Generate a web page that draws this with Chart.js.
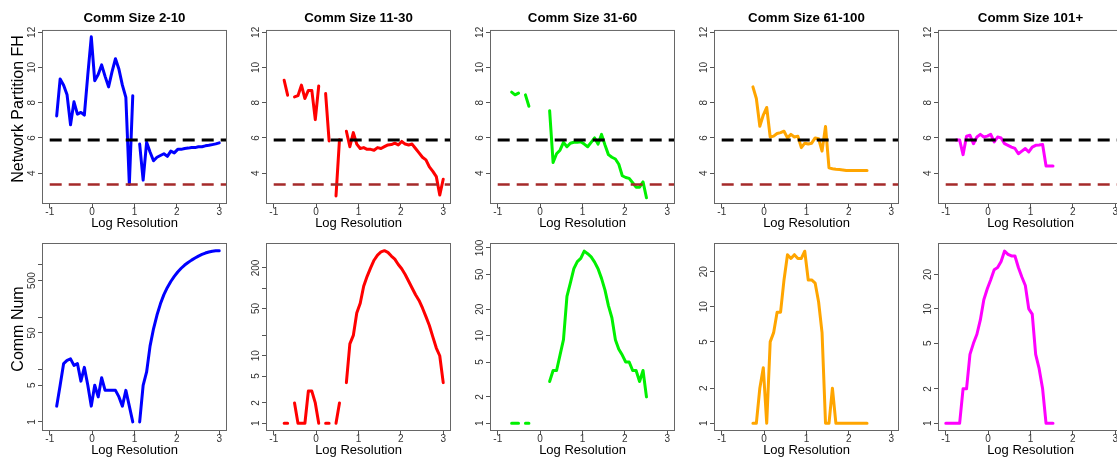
<!DOCTYPE html>
<html>
<head>
<meta charset="utf-8">
<script src="https://cdn.jsdelivr.net/npm/chart.js@4.4.0/dist/chart.umd.min.js"></script>
<style>
    html, body { margin: 0; padding: 0; background: #fff; overflow: hidden; }
    #wrap { position: relative; width: 1117px; height: 457px; overflow: hidden; }
    #wrap canvas { position: absolute; }
</style>
</head>
<body>
<div id="wrap"></div>
<script>
// log10 resolution grid shared by every panel
const logRes = [-1, -0.918, -0.837, -0.755, -0.673, -0.592, -0.510, -0.429, -0.347, -0.265,
    -0.184, -0.102, -0.020, 0.061, 0.143, 0.224, 0.306, 0.388, 0.469, 0.551,
    0.633, 0.714, 0.796, 0.878, 0.959, 1.041, 1.122, 1.204, 1.286, 1.367,
    1.449, 1.531, 1.612, 1.694, 1.776, 1.857, 1.939, 2.020, 2.102, 2.184,
    2.265, 2.347, 2.429, 2.510, 2.592, 2.673, 2.755, 2.837, 2.918, 3];

const sizeClasses = ['2-10', '11-30', '31-60', '61-100', '101+'];
const sizeColors = ['#0000ff', '#ff0000', '#00f000', '#ffa500', '#ff00ff'];

// Network partition FH per size class (null = no community of that size)
const fh2to10 = [null, null, 7.25, 9.35, 9.0, 8.45, 6.75, 8.05, 7.35, 7.45,
    7.3, 9.6, 11.75, 9.25, 9.6, 10.15, 9.5, 8.9, 9.75, 10.5,
    9.9, 9.0, 8.3, 3.35, 8.4, null, 5.65, 3.6, 5.75, 5.2,
    4.7, 4.9, 5.0, 5.1, 4.95, 5.25, 5.15, 5.35, 5.35, 5.4,
    5.42, 5.45, 5.45, 5.5, 5.5, 5.55, 5.58, 5.62, 5.66, 5.72];
const fh11to30 = [null, null, null, 9.28, 8.43, null, 8.33, 8.4, 9.0, 8.24,
    8.7, 8.7, 7.04, 8.95, null, 8.52, 5.83, null, 2.7, 5.9,
    null, 6.38, 5.5, 6.3, 5.65, 5.4, 5.45, 5.35, 5.35, 5.3,
    5.45, 5.4, 5.5, 5.6, 5.62, 5.7, 5.6, 5.8, 5.65, 5.6,
    5.65, 5.4, 5.15, 4.9, 4.75, 4.35, 4.1, 3.8, 2.75, 3.65];
const fh31to60 = [null, null, null, null, 8.6, 8.45, 8.55, null, 8.45, 7.8,
    null, null, null, null, null, 7.55, 4.6, 5.1, 5.3, 5.75,
    5.5, 5.7, 5.75, 5.75, 5.78, 5.65, 5.5, 5.75, 6.0, 5.65,
    6.2, 5.6, 5.05, 4.9, 4.8, 4.5, 3.85, 3.75, 3.7, 3.45,
    3.2, 3.2, 3.5, 2.6, null, null, null, null, null, null];
const fh61to100 = [null, null, null, null, null, null, null, null, null, 8.9,
    8.24, 6.66, 7.3, 7.73, 6.05, 6.1, 6.25, 6.3, 6.38, 6.0,
    6.2, 6.05, 6.1, 5.45, 5.7, 5.65, 5.7, 6.0, 5.95, 5.25,
    6.65, 4.3, 4.25, 4.22, 4.2, 4.18, 4.15, 4.15, 4.15, 4.15,
    4.15, 4.15, 4.15, null, null, null, null, null, null, null];
const fh101up = [null, null, null, 5.88, 5.88, 5.05, 6.1, 6.15, 5.67, 6.05,
    6.2, 6.05, 6.1, 6.2, 5.77, 6.05, 6.0, 5.67, 5.58, 5.48,
    5.4, 5.1, 5.25, 5.4, 5.2, 5.48, 5.58, 5.6, 5.63, 4.4,
    4.4, 4.4, null, null, null, null, null, null, null, null,
    null, null, null, null, null, null, null, null, null, null];

// number of communities per size class
const comm2to10 = [null, null, 2, 5, 13, 15, 16, 12, 13, 6,
    11, 5, 2, 5, 3, 7, 4, 4, 4, 4,
    3, 2, 4, 2, 1, null, 1, 5, 9, 28,
    60, 110, 180, 270, 370, 480, 600, 730, 860, 990,
    1110, 1230, 1350, 1470, 1580, 1680, 1760, 1820, 1855, 1860];
const comm11to30 = [null, null, null, 1, 1, null, 2, 1, 1, 1,
    3, 3, 2, 1, null, 1, 1, null, 1, 2,
    null, 4, 15, 20, 43, 60, 107, 150, 200, 260,
    310, 345, 360, 340, 300, 270, 225, 194, 160, 127,
    101, 80, 66, 51, 38, 28, 19, 13, 10, 4];
const comm31to60 = [null, null, null, null, 1, 1, 1, null, 1, 1,
    null, null, null, null, null, 3, 4, 4, 6, 9,
    28, 40, 58, 70, 76, 92, 86, 79, 69, 58,
    45, 33, 22, 16, 9, 7, 6, 5, 5, 4,
    4, 3, 4, 2, null, null, null, null, null, null];
const comm61to100 = [null, null, null, null, null, null, null, null, null, 1,
    1, 2, 3, 1, 5, 6, 9, 9, 17, 28,
    26, 28, 26, 26, 30, 17, 17, 16, 11, 6,
    1, 1, 2, 1, 1, 1, 1, 1, 1, 1,
    1, 1, 1, null, null, null, null, null, null, null];
const comm101up = [1, 1, 1, 1, 1, 2, 2, 4, 5, 6,
    8, 12, 15, 18, 22, 23, 26, 32, 30, 29,
    29, 23, 19, 16, 10, 9, 4, 3, 2, 1,
    1, 1, null, null, null, null, null, null, null, null,
    null, null, null, null, null, null, null, null, null, null];

const fhBySize = [fh2to10, fh11to30, fh31to60, fh61to100, fh101up];
const commBySize = [comm2to10, comm11to30, comm31to60, comm61to100, comm101up];

// reference FH levels (dashed lines)
const fhNetworkRef = 5.88;
const fhRandomRef = 3.35;

// axes
const xTicks = [-1, 0, 1, 2, 3];
const xRange = [-1.16, 3.16];
const fhTicks = [4, 6, 8, 10, 12];
const fhRange = [2.3, 12.08];
const commTicks = [
    [1, 5, 10, 50, 100, 500, 1000],
    [1, 2, 5, 10, 20, 50, 100, 200],
    [1, 2, 5, 10, 20, 50, 100],
    [1, 2, 5, 10, 20],
    [1, 2, 5, 10, 20]
];
const commLabelled = [
    [1, 5, 50, 500],
    [1, 2, 5, 10, 50, 200],
    [1, 2, 5, 10, 20, 50, 100],
    [1, 2, 5, 10, 20],
    [1, 2, 5, 10, 20]
];
const commRange = [[0.745, 2500], [0.795, 452], [0.838, 111], [0.876, 34.6], [0.874, 36.9]];

const FONT = '"Liberation Sans", Arial, Helvetica, sans-serif';
const TICK_LEN = 5;
const TICK_FONT = 10;

Chart.defaults.font.family = FONT;

const measureCtx = document.createElement('canvas').getContext('2d');
function widest(labels) {
    measureCtx.font = TICK_FONT + 'px ' + FONT;
    return Math.max(...labels.map(t => measureCtx.measureText(t).width));
}

// full box round the plot area, like R's box()
const frame = {
    id: 'frame',
    afterDatasetsDraw(chart) {
        const { ctx, chartArea: a } = chart;
        ctx.save();
        ctx.strokeStyle = '#666';
        ctx.lineWidth = 1;
        ctx.strokeRect(a.left - 0.5, a.top - 0.5, a.width + 1, a.height + 1);
        ctx.restore();
    }
};

// rotated y label on the first column
const sideTitle = {
    id: 'sideTitle',
    afterDraw(chart, args, opts) {
        if (!opts.text) return;
        const { ctx, chartArea: a } = chart;
        ctx.save();
        ctx.translate(a.left - 24, (a.top + a.bottom) / 2 - 8);
        ctx.rotate(-Math.PI / 2);
        ctx.font = '16px ' + FONT;
        ctx.fillStyle = '#000';
        ctx.textAlign = 'center';
        ctx.textBaseline = 'middle';
        ctx.fillText(opts.text, 0, 0);
        ctx.restore();
    }
};

function refLine(y, color, width) {
    return {
        data: [{ x: xRange[0], y }, { x: xRange[1], y }],
        borderColor: color,
        borderWidth: width,
        borderDash: [12, 7],
        borderDashOffset: 12.3,
        borderCapStyle: 'butt',
        pointRadius: 0
    };
}

const wrap = document.getElementById('wrap');

function makePanel(col, row) {
    const isTop = row === 0;
    const canvas = document.createElement('canvas');
    canvas.width = 232;
    canvas.height = isTop ? 232 : 227;
    canvas.style.left = (224 * col) + 'px';
    canvas.style.top = (isTop ? 0 : 232) + 'px';
    wrap.appendChild(canvas);

    const series = (isTop ? fhBySize : commBySize)[col];
    const datasets = [];
    if (isTop) {
        datasets.push(refLine(fhNetworkRef, '#000000', 3));
        datasets.push(refLine(fhRandomRef, '#a52a2a', 2.5));
    }
    datasets.push({
        data: logRes.map((x, i) => ({ x, y: series[i] })),
        borderColor: sizeColors[col],
        borderWidth: 3,
        pointRadius: 0,
        tension: 0,
        spanGaps: false,
        borderJoinStyle: 'round',
        borderCapStyle: 'round'
    });

    const yTicks = isTop ? fhTicks : commTicks[col];
    const yShown = isTop ? fhTicks : commLabelled[col];
    const yLabel = v => (yShown.includes(v) ? String(v) : '');
    const yPad = 11.2 - TICK_LEN - widest(yTicks.map(yLabel)) / 2;
    const yRange = isTop ? fhRange : commRange[col];

    new Chart(canvas, {
        type: 'line',
        data: { datasets },
        options: {
            responsive: false,
            animation: false,
            devicePixelRatio: 1,
            events: [],
            layout: { padding: { top: isTop ? 0 : 12, right: 6, bottom: 0, left: 0 } },
            plugins: {
                legend: { display: false },
                tooltip: { enabled: false },
                title: {
                    display: isTop,
                    text: 'Comm Size ' + sizeClasses[col],
                    fullSize: false,
                    color: '#000',
                    font: { size: 13.3, weight: 'bold' },
                    padding: { top: 10.6, bottom: 4.4 }
                },
                sideTitle: { text: col === 0 ? (isTop ? 'Network Partition FH' : 'Comm Num') : '' }
            },
            scales: {
                x: {
                    type: 'linear',
                    min: xRange[0],
                    max: xRange[1],
                    afterBuildTicks: s => { s.ticks = xTicks.map(v => ({ value: v })); },
                    afterFit: s => { s.height = 29; },
                    border: { display: false },
                    grid: { drawOnChartArea: false, drawTicks: true, tickLength: TICK_LEN, tickColor: '#555' },
                    ticks: { autoSkip: false, maxRotation: 0, padding: -2, color: '#333', font: { size: TICK_FONT }, callback: v => String(v) },
                    title: { display: true, text: 'Log Resolution', color: '#000', font: { size: 13 }, padding: { top: 0, bottom: 0.8 } }
                },
                y: {
                    type: isTop ? 'linear' : 'logarithmic',
                    min: yRange[0],
                    max: yRange[1],
                    afterBuildTicks: s => { s.ticks = yTicks.map(v => ({ value: v })); },
                    afterFit: s => { s.width = 43; },
                    border: { display: false },
                    grid: { drawOnChartArea: false, drawTicks: true, tickLength: TICK_LEN, tickColor: '#555' },
                    ticks: {
                        autoSkip: false,
                        minRotation: 90,
                        maxRotation: 90,
                        crossAlign: 'center',
                        padding: yPad,
                        color: '#333',
                        font: { size: TICK_FONT },
                        callback: v => yLabel(v)
                    }
                }
            }
        },
        plugins: [frame, sideTitle]
    });
}

for (let row = 0; row < 2; row++) {
    for (let col = 0; col < 5; col++) makePanel(col, row);
}
</script>
</body>
</html>
